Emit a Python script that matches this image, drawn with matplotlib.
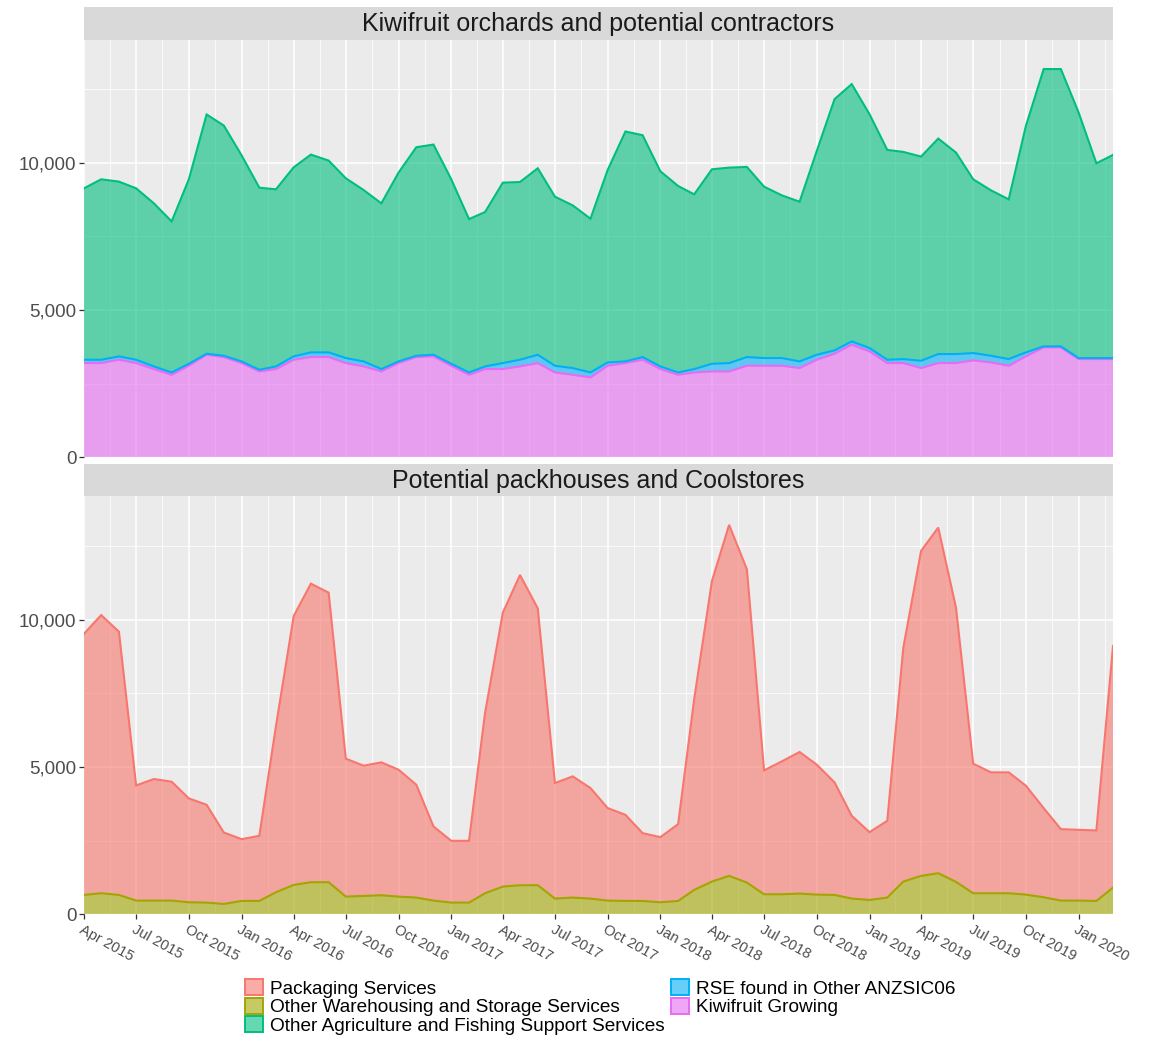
import numpy as np
import pandas as pd
import matplotlib
matplotlib.use("Agg")
import matplotlib.pyplot as plt
import matplotlib.dates as mdates
from matplotlib.colors import to_rgba
from matplotlib.patches import Patch
from matplotlib.ticker import FixedLocator, FuncFormatter

plt.rcParams['font.family'] = ['Liberation Sans', 'DejaVu Sans']

# Monthly observations, Apr 2015 .. Mar 2020
months = pd.date_range("2015-04-01", "2020-03-01", freq="MS")

# --- Kiwifruit orchards and potential contractors ---
kiwifruit_growing = [
    3198, 3198, 3311, 3198, 2994, 2801, 3107, 3481, 3402, 3198,
    2914, 2994, 3311, 3402, 3402, 3198, 3084, 2914, 3198, 3402,
    3425, 3107, 2801, 2994, 2994, 3084, 3198, 2880, 2801, 2710,
    3107, 3198, 3311, 2994, 2801, 2880, 2914, 2914, 3107, 3107,
    3107, 3028, 3311, 3515, 3822, 3595, 3198, 3198, 3028, 3198,
    3198, 3289, 3221, 3107, 3425, 3731, 3731, 3334, 3334, 3334,
]
rse_other_anzsic = [
    113, 113, 114, 113, 90, 79, 68, 34, 45, 57,
    57, 90, 114, 159, 159, 170, 171, 80, 57, 45,
    56, 68, 79, 90, 204, 227, 283, 227, 227, 170,
    114, 57, 91, 90, 79, 114, 261, 284, 295, 261,
    261, 227, 170, 114, 113, 113, 113, 136, 249, 306,
    306, 249, 226, 227, 136, 34, 34, 34, 34, 34,
]
other_agri_fishing = [
    5818, 6124, 5931, 5818, 5534, 5126, 6260, 8120, 7813, 6996,
    6180, 6011, 6418, 6713, 6509, 6101, 5817, 5624, 6407, 7077,
    7133, 6260, 5205, 5240, 6123, 6033, 6328, 5738, 5522, 5217,
    6531, 7802, 7530, 6623, 6328, 5931, 6600, 6634, 6453, 5817,
    5522, 5420, 6918, 8527, 8732, 7938, 7122, 7031, 6929, 7314,
    6838, 5897, 5614, 5420, 7688, 9412, 9412, 8335, 6611, 6895,
]

# --- Potential packhouses and Coolstores ---
other_warehousing = [
    657, 714, 657, 465, 465, 465, 408, 397, 351, 453,
    453, 748, 997, 1088, 1088, 600, 623, 646, 600, 567,
    465, 397, 397, 714, 940, 986, 986, 533, 567, 533,
    465, 453, 453, 408, 453, 827, 1110, 1303, 1076, 680,
    680, 702, 668, 657, 533, 487, 567, 1110, 1303, 1394,
    1099, 714, 714, 714, 668, 578, 465, 465, 453, 906,
]
packaging_services = [
    8860, 9438, 8928, 3908, 4124, 4033, 3524, 3319, 2425, 2096,
    2210, 5631, 9121, 10129, 9823, 4680, 4419, 4509, 4306, 3829,
    2515, 2096, 2096, 6118, 9291, 10525, 9392, 3920, 4112, 3750,
    3138, 2923, 2300, 2209, 2606, 6473, 10197, 11908, 10628, 4203,
    4509, 4804, 4408, 3818, 2809, 2300, 2605, 7931, 11024, 11726,
    9302, 4396, 4101, 4101, 3694, 3025, 2424, 2401, 2391, 8192,
]

panel_titles = ["Kiwifruit orchards and potential contractors",
                "Potential packhouses and Coolstores"]
series_names = ["Packaging Services",
                "Other Warehousing and Storage Services",
                "Other Agriculture and Fishing Support Services",
                "RSE found in Other ANZSIC06",
                "Kiwifruit Growing"]
series_colors = ["#F8766D", "#A3A500", "#00BF7D", "#00B0F6", "#E76BF3"]
color_of = dict(zip(series_names, series_colors))

y_major = [0, 5000, 10000]
y_minor = [2500, 7500, 12500]
y_max = 14180

W, H = 1151, 1038
fig = plt.figure(figsize=(W / 100, H / 100), dpi=100)
fig.patch.set_facecolor("white")


def fx(px):
    return px / W


def fy(py):
    return 1 - py / H


left, right = 84, 1113
panels = [
    # (strip top, panel top, panel bottom) in pixels
    (6.5, 39.5, 457.3),
    (463.8, 496.3, 914.3),
]

# bottom-to-top stacking order for each panel
layers = [
    [("Kiwifruit Growing", kiwifruit_growing),
     ("RSE found in Other ANZSIC06", rse_other_anzsic),
     ("Other Agriculture and Fishing Support Services", other_agri_fishing)],
    [("Other Warehousing and Storage Services", other_warehousing),
     ("Packaging Services", packaging_services)],
]

major_dates = pd.date_range("2015-04-01", "2020-01-01", freq="QS-JAN")
major_num = mdates.date2num(major_dates.to_pydatetime())
minor_num = list((major_num[:-1] + major_num[1:]) / 2)
minor_num.append(major_num[-1] + (major_num[-1] - major_num[-2]) / 2)

x_num = mdates.date2num(months.to_pydatetime())

for k, ((s_top, p_top, p_bot), title, group) in enumerate(zip(panels, panel_titles, layers)):
    # facet strip
    sax = fig.add_axes([fx(left), fy(p_top), fx(right - left), (p_top - s_top) / H])
    sax.set_facecolor("#D9D9D9")
    sax.set_xticks([])
    sax.set_yticks([])
    for sp in sax.spines.values():
        sp.set_visible(False)
    sax.text(0.5, 0.47, title, ha="center", va="center", fontsize=18,
             color="#1A1A1A", transform=sax.transAxes)

    ax = fig.add_axes([fx(left), fy(p_bot), fx(right - left), (p_bot - p_top) / H])
    ax.set_facecolor("#EBEBEB")
    for sp in ax.spines.values():
        sp.set_visible(False)

    names = [n for n, _ in group]
    vals = [np.asarray(v, dtype=float) for _, v in group]
    cols = [color_of[n] for n in names]
    ax.stackplot(x_num, *vals, colors=cols, alpha=0.6, linewidth=0, zorder=2)
    tops = np.cumsum(np.vstack(vals), axis=0)
    for top, c in zip(tops, cols):
        ax.plot(x_num, top, color=c, lw=1.5, zorder=3, solid_joinstyle="miter")

    ax.set_xlim(x_num[0], x_num[-1])
    ax.set_ylim(0, y_max)
    ax.yaxis.set_major_locator(FixedLocator(y_major))
    ax.yaxis.set_minor_locator(FixedLocator(y_minor))
    ax.yaxis.set_major_formatter(FuncFormatter(lambda v, p: f"{int(v):,}"))
    ax.xaxis.set_major_locator(FixedLocator(major_num))
    ax.xaxis.set_minor_locator(FixedLocator(minor_num))
    ax.set_axisbelow(True)
    ax.grid(which="major", color="white", lw=1.1, zorder=0)
    ax.grid(which="minor", color="white", lw=0.55, zorder=0)
    ax.tick_params(axis="y", which="major", length=3.5, width=0.9, color="#333333",
                   labelsize=13.5, labelcolor="#4D4D4D", pad=2)
    ax.tick_params(which="minor", length=0)

    if k == 0:
        ax.tick_params(axis="x", which="major", length=0, labelbottom=False)
    else:
        ax.tick_params(axis="x", which="major", length=3.5, width=0.9, color="#333333",
                       labelsize=10.5, labelcolor="#4D4D4D", pad=2.5)
        ax.set_xticklabels([d.strftime("%b %Y") for d in major_dates])
        for lab in ax.get_xticklabels():
            lab.set_rotation(-29)
            lab.set_ha("left")
            lab.set_va("top")
            lab.set_rotation_mode("anchor")

handles = [Patch(facecolor=to_rgba(c, 0.6), edgecolor=to_rgba(c, 1.0), lw=1.4)
           for c in series_colors]

fig.legend(handles, series_names, loc="upper left",
           bbox_to_anchor=(fx(245), fy(979)), ncol=2, frameon=False,
           fontsize=13.7, handlelength=0.92, handleheight=0.92,
           handletextpad=0.37, labelspacing=0.0, columnspacing=0.37,
           borderpad=0, borderaxespad=0)

fig.savefig("out.png", dpi=100, facecolor="white")
